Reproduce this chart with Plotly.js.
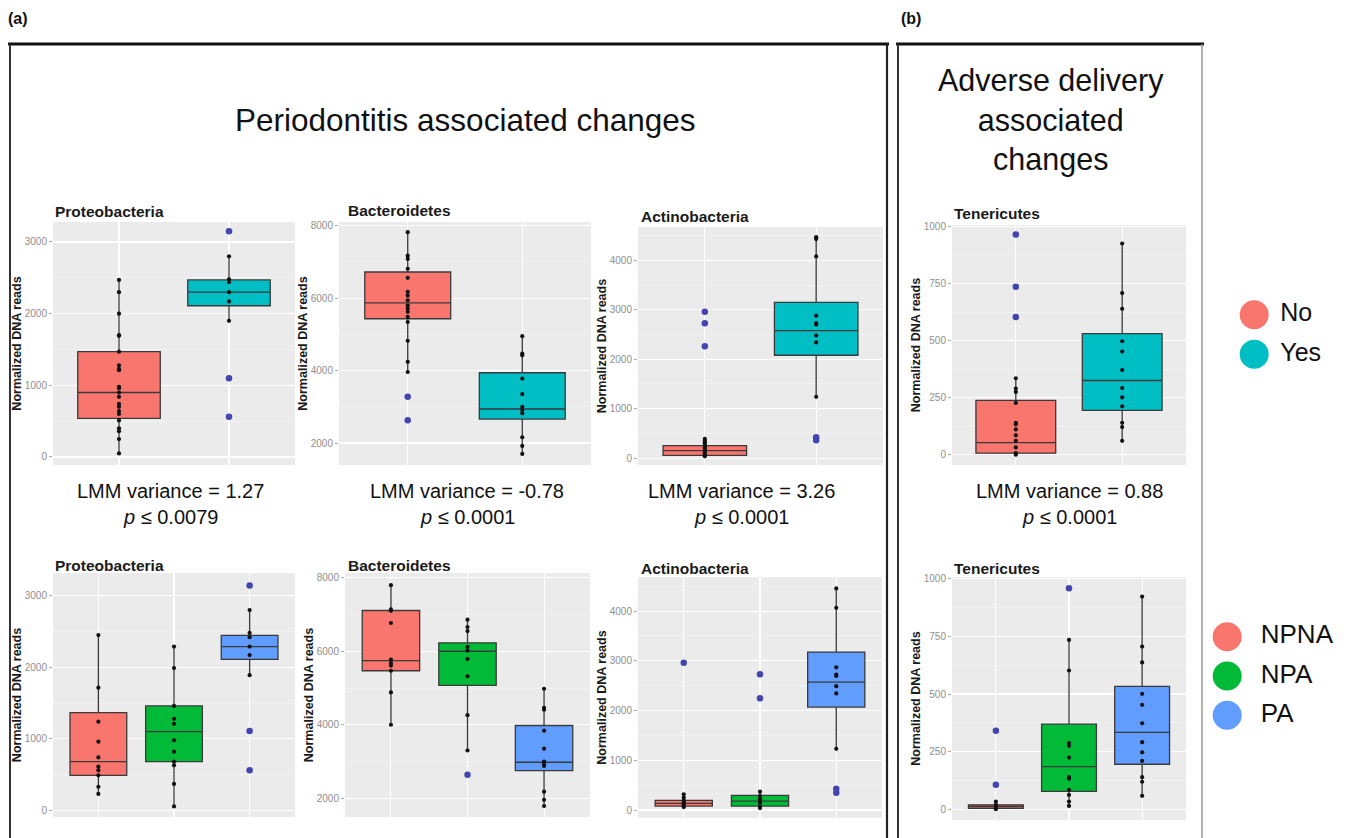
<!DOCTYPE html>
<html><head><meta charset="utf-8">
<script src="https://cdn.plot.ly/plotly-3.0.1.min.js"></script>
<style>html,body{margin:0;padding:0;background:#fff;}#chart{width:1351px;height:838px;}</style>
</head><body><div id="chart"></div>
<script>
// ---------------- categories & labels ----------------
const groupsPerio = ['No', 'Yes'];
const groupsTri = ['NPNA', 'NPA', 'PA'];
const colorsPerio = ['#F8766D', '#00BFC4'];
const colorsTri = ['#F8766D', '#00BA38', '#619CFF'];
const phyla = ['Proteobacteria', 'Bacteroidetes', 'Actinobacteria', 'Tenericutes'];
const lmmVariance = ['1.27', '-0.78', '3.26', '0.88'];
const pValue = ['0.0079', '0.0001', '0.0001', '0.0001'];

// ---------------- Proteobacteria, periodontitis (No / Yes) ----------------
const proteoPerio_lower = [50, 1900];
const proteoPerio_q1 = [540, 2110];
const proteoPerio_median = [900, 2300];
const proteoPerio_q3 = [1470, 2470];
const proteoPerio_upper = [2470, 2800];
const proteoPerio_No = [2470, 2300, 2000, 1700, 1690, 1470, 1280, 1230, 1210, 980, 960, 900, 840, 740, 700, 640, 600, 510, 400, 360, 250, 50];
const proteoPerio_Yes = [2800, 2480, 2440, 2300, 2170, 1900];
const proteoPerio_NoOut = [];
const proteoPerio_YesOut = [3150, 1100, 560];

// ---------------- Bacteroidetes, periodontitis ----------------
const bactPerio_lower = [3960, 1700];
const bactPerio_q1 = [5430, 2660];
const bactPerio_median = [5870, 2940];
const bactPerio_q3 = [6720, 3940];
const bactPerio_upper = [7820, 4950];
const bactPerio_No = [7820, 7170, 7080, 6810, 6560, 6170, 6070, 5940, 5800, 5710, 5620, 5480, 5340, 4820, 4240, 3960];
const bactPerio_Yes = [4950, 4470, 4420, 3780, 3350, 3000, 2910, 2820, 2160, 1920, 1700];
const bactPerio_NoOut = [3280, 2630];
const bactPerio_YesOut = [];

// ---------------- Actinobacteria, periodontitis ----------------
const actinoPerio_lower = [35, 1240];
const actinoPerio_q1 = [55, 2080];
const actinoPerio_median = [150, 2580];
const actinoPerio_q3 = [250, 3150];
const actinoPerio_upper = [390, 4470];
const actinoPerio_No = [390, 350, 320, 290, 250, 220, 190, 150, 120, 90, 55, 35];
const actinoPerio_Yes = [4470, 4430, 4080, 2880, 2730, 2700, 2480, 2340, 1240];
const actinoPerio_NoOut = [2960, 2730, 2260];
const actinoPerio_YesOut = [420, 360];

// ---------------- Tenericutes, adverse delivery ----------------
const teneAdverse_lower = [0, 61];
const teneAdverse_q1 = [7, 194];
const teneAdverse_median = [53, 325];
const teneAdverse_q3 = [238, 530];
const teneAdverse_upper = [335, 925];
const teneAdverse_No = [335, 290, 275, 227, 140, 133, 111, 85, 61, 32, 7, 0];
const teneAdverse_Yes = [925, 708, 639, 497, 452, 371, 292, 251, 212, 140, 121, 61];
const teneAdverse_NoOut = [964, 736, 603];
const teneAdverse_YesOut = [];

// ---------------- Proteobacteria, NPNA / NPA / PA ----------------
const proteoTri_lower = [230, 55, 1890];
const proteoTri_q1 = [490, 680, 2110];
const proteoTri_median = [680, 1100, 2290];
const proteoTri_q3 = [1365, 1460, 2445];
const proteoTri_upper = [2450, 2290, 2800];
const proteoTri_NPNA = [2450, 1715, 1240, 960, 740, 610, 560, 490, 330, 230];
const proteoTri_NPA = [2290, 1990, 1460, 1280, 1210, 980, 820, 680, 630, 370, 55];
const proteoTri_PA = [2800, 2480, 2420, 2290, 2170, 1890];
const proteoTri_NPNAOut = [];
const proteoTri_NPAOut = [];
const proteoTri_PAOut = [3145, 1110, 560];

// ---------------- Bacteroidetes, NPNA / NPA / PA ----------------
const bactTri_lower = [4000, 3300, 1790];
const bactTri_q1 = [5470, 5070, 2750];
const bactTri_median = [5745, 6000, 2980];
const bactTri_q3 = [7110, 6230, 3980];
const bactTri_upper = [7800, 6860, 4980];
const bactTri_NPNA = [7800, 7140, 7100, 6770, 5770, 5680, 5610, 5470, 4880, 4000];
const bactTri_NPA = [6860, 6660, 6550, 6120, 6020, 5790, 5320, 4260, 3300];
const bactTri_PA = [4980, 4460, 4410, 3840, 3350, 3000, 2940, 2880, 2180, 1960, 1790];
const bactTri_NPNAOut = [];
const bactTri_NPAOut = [2640];
const bactTri_PAOut = [];

// ---------------- Actinobacteria, NPNA / NPA / PA ----------------
const actinoTri_lower = [60, 40, 1230];
const actinoTri_q1 = [80, 80, 2070];
const actinoTri_median = [135, 180, 2570];
const actinoTri_q3 = [195, 295, 3175];
const actinoTri_upper = [315, 370, 4455];
const actinoTri_NPNA = [315, 250, 195, 150, 115, 80, 60];
const actinoTri_NPA = [370, 280, 215, 150, 80, 40];
const actinoTri_PA = [4455, 4065, 2870, 2725, 2695, 2490, 2345, 1230];
const actinoTri_NPNAOut = [2960];
const actinoTri_NPAOut = [2730, 2245];
const actinoTri_PAOut = [430, 350];

// ---------------- Tenericutes, NPNA / NPA / PA ----------------
const teneTri_lower = [0, 14, 58];
const teneTri_q1 = [4, 77, 195];
const teneTri_median = [12, 185, 333];
const teneTri_q3 = [19, 369, 533];
const teneTri_upper = [33, 735, 923];
const teneTri_NPNA = [33, 19, 12, 4, 0];
const teneTri_NPA = [735, 602, 287, 275, 224, 139, 132, 84, 62, 33, 14];
const teneTri_PA = [923, 706, 637, 501, 453, 373, 291, 247, 210, 139, 119, 58];
const teneTri_NPNAOut = [340, 106];
const teneTri_NPAOut = [959];
const teneTri_PAOut = [];

// ---------------- build ----------------
const W = 1351, H = 838;
const fx = p => p / W;
const fy = p => 1 - p / H;
const FONT = 'Liberation Sans, Arial, Helvetica, sans-serif';

const panels = [
  {title: phyla[0], groups: groupsPerio, colors: colorsPerio, lower: proteoPerio_lower, q1: proteoPerio_q1, median: proteoPerio_median, q3: proteoPerio_q3, upper: proteoPerio_upper,
   pts: [proteoPerio_No, proteoPerio_Yes], out: [proteoPerio_NoOut, proteoPerio_YesOut], dom: [53, 222, 295, 465], yr: [-112, 3279], dtick: 1000, tt: [53, 212]},
  {title: phyla[1], groups: groupsPerio, colors: colorsPerio, lower: bactPerio_lower, q1: bactPerio_q1, median: bactPerio_median, q3: bactPerio_q3, upper: bactPerio_upper,
   pts: [bactPerio_No, bactPerio_Yes], out: [bactPerio_NoOut, bactPerio_YesOut], dom: [339, 222, 591, 465], yr: [1394, 8100], dtick: 2000, tt: [346, 211]},
  {title: phyla[2], groups: groupsPerio, colors: colorsPerio, lower: actinoPerio_lower, q1: actinoPerio_q1, median: actinoPerio_median, q3: actinoPerio_q3, upper: actinoPerio_upper,
   pts: [actinoPerio_No, actinoPerio_Yes], out: [actinoPerio_NoOut, actinoPerio_YesOut], dom: [638, 227, 883, 465], yr: [-140, 4675], dtick: 1000, tt: [639, 216]},
  {title: phyla[3], groups: groupsPerio, colors: colorsPerio, lower: teneAdverse_lower, q1: teneAdverse_q1, median: teneAdverse_median, q3: teneAdverse_q3, upper: teneAdverse_upper,
   pts: [teneAdverse_No, teneAdverse_Yes], out: [teneAdverse_NoOut, teneAdverse_YesOut], dom: [952, 225, 1186, 465], yr: [-45, 1006], dtick: 250, tt: [952, 213]},
  {title: phyla[0], groups: groupsTri, colors: colorsTri, lower: proteoTri_lower, q1: proteoTri_q1, median: proteoTri_median, q3: proteoTri_q3, upper: proteoTri_upper,
   pts: [proteoTri_NPNA, proteoTri_NPA, proteoTri_PA], out: [proteoTri_NPNAOut, proteoTri_NPAOut, proteoTri_PAOut], dom: [53, 573, 295, 817], yr: [-93, 3318], dtick: 1000, tt: [53, 565]},
  {title: phyla[1], groups: groupsTri, colors: colorsTri, lower: bactTri_lower, q1: bactTri_q1, median: bactTri_median, q3: bactTri_q3, upper: bactTri_upper,
   pts: [bactTri_NPNA, bactTri_NPA, bactTri_PA], out: [bactTri_NPNAOut, bactTri_NPAOut, bactTri_PAOut], dom: [345, 573, 590, 817], yr: [1490, 8130], dtick: 2000, tt: [346, 565]},
  {title: phyla[2], groups: groupsTri, colors: colorsTri, lower: actinoTri_lower, q1: actinoTri_q1, median: actinoTri_median, q3: actinoTri_q3, upper: actinoTri_upper,
   pts: [actinoTri_NPNA, actinoTri_NPA, actinoTri_PA], out: [actinoTri_NPNAOut, actinoTri_NPAOut, actinoTri_PAOut], dom: [638, 577, 882, 818], yr: [-160, 4685], dtick: 1000, tt: [639, 568]},
  {title: phyla[3], groups: groupsTri, colors: colorsTri, lower: teneTri_lower, q1: teneTri_q1, median: teneTri_median, q3: teneTri_q3, upper: teneTri_upper,
   pts: [teneTri_NPNA, teneTri_NPA, teneTri_PA], out: [teneTri_NPNAOut, teneTri_NPAOut, teneTri_PAOut], dom: [952, 577, 1186, 820], yr: [-47, 1008], dtick: 250, tt: [952, 568]}
];

const traces = [];
const layout = {
  width: W, height: H, margin: {l: 0, r: 0, t: 0, b: 0},
  paper_bgcolor: '#ffffff', plot_bgcolor: 'rgba(0,0,0,0)',
  showlegend: false, font: {family: FONT, color: '#111'},
  shapes: [], annotations: []
};

panels.forEach((p, k) => {
  const n = k + 1;
  const sx = n === 1 ? '' : String(n);
  const xa = 'x' + sx, ya = 'y' + sx;
  const [x0, y0, x1, y1] = p.dom;
  const ng = p.groups.length;
  layout['xaxis' + sx] = {
    domain: [fx(x0), fx(x1)], anchor: ya, range: [0.4, ng + 0.6],
    tickvals: p.groups.map((g, i) => i + 1), ticktext: p.groups, showticklabels: false, ticks: '',
    showgrid: true, gridcolor: '#ffffff', gridwidth: 1.1, zeroline: false, showline: false, fixedrange: true
  };
  layout['yaxis' + sx] = {
    domain: [fy(y1), fy(y0)], anchor: xa, range: p.yr, tick0: 0, dtick: p.dtick,
    ticks: 'outside', ticklen: 3, tickwidth: 1, tickcolor: '#a8a8a8',
    tickfont: {size: 10, color: '#8e8e8e', family: FONT},
    showgrid: true, gridcolor: '#ffffff', gridwidth: 1.1,
    minor: {dtick: p.dtick / 2, showgrid: true, gridcolor: '#F6F6F6', gridwidth: 0.6},
    zeroline: false, showline: false, fixedrange: true,
    title: {text: 'Normalized DNA reads', font: {size: 12.5, color: '#1a1a1a', family: FONT, weight: 'bold'}, standoff: 0}
  };
  layout.shapes.push({type: 'rect', xref: xa + ' domain', yref: ya + ' domain', x0: 0, x1: 1, y0: 0, y1: 1,
    fillcolor: '#EBEBEB', line: {width: 0}, layer: 'below'});
  p.groups.forEach((g, i) => {
    traces.push({type: 'box', name: g, xaxis: xa, yaxis: ya, x: [i + 1],
      q1: [p.q1[i]], median: [p.median[i]], q3: [p.q3[i]], lowerfence: [p.lower[i]], upperfence: [p.upper[i]],
      width: 0.75, whiskerwidth: 0, boxpoints: false, fillcolor: p.colors[i],
      line: {color: '#3a3a3a', width: 1.3}, hoverinfo: 'skip'});
  });
  p.groups.forEach((g, i) => {
    if (p.out[i].length) {
      traces.push({type: 'scatter', mode: 'markers', xaxis: xa, yaxis: ya, x: p.out[i].map(() => i + 1), y: p.out[i],
        marker: {color: '#4444b0', size: 6.5}, hoverinfo: 'skip'});
    }
    traces.push({type: 'scatter', mode: 'markers', xaxis: xa, yaxis: ya, x: p.pts[i].map(() => i + 1), y: p.pts[i],
      marker: {color: '#111111', size: 4.2}, hoverinfo: 'skip'});
  });
  layout.annotations.push({xref: 'paper', yref: 'paper', x: fx(p.tt[0]), y: fy(p.tt[1]), xanchor: 'left', yanchor: 'middle',
    text: p.title, showarrow: false, font: {size: 15.5, family: FONT, color: '#1a1a1a', weight: 'bold'}});
});

// ---------------- legends (drawn as markers on hidden axes) ----------------
const legends = [
  {groups: groupsPerio, colors: colorsPerio, dom: [1230, 295, 1351, 374], mx: 0.2, fs: 25, pad: '\u00a0'},
  {groups: groupsTri, colors: colorsTri, dom: [1200, 617, 1351, 735], mx: 0.18, fs: 26, pad: '\u00a0\u00a0'}
];
legends.forEach((L, k) => {
  const n = 9 + k;
  const xa = 'x' + n, ya = 'y' + n;
  const [x0, y0, x1, y1] = L.dom;
  const ng = L.groups.length;
  layout['xaxis' + n] = {domain: [fx(x0), fx(x1)], anchor: ya, range: [0, 1], visible: false, fixedrange: true};
  layout['yaxis' + n] = {domain: [fy(y1), fy(y0)], anchor: xa, range: [-0.5, ng - 0.5], visible: false, fixedrange: true};
  traces.push({type: 'scatter', mode: 'markers+text', xaxis: xa, yaxis: ya,
    x: L.groups.map(() => L.mx), y: L.groups.map((g, i) => ng - 1 - i),
    text: L.groups.map(g => L.pad + g), textposition: 'middle right',
    textfont: {size: L.fs, family: FONT, color: '#111'},
    marker: {color: L.colors, size: 29}, hoverinfo: 'skip', cliponaxis: false});
});

// ---------------- texts ----------------
const ann = (x, y, text, size, extra) => layout.annotations.push(Object.assign({
  xref: 'paper', yref: 'paper', x: fx(x), y: fy(y), text: text, showarrow: false,
  xanchor: 'center', yanchor: 'middle', font: {size: size, family: FONT, color: '#111'}}, extra || {}));

ann(18, 19, '(a)', 16, {font: {size: 16, family: FONT, color: '#111', weight: 'bold'}});
ann(911, 19, '(b)', 16, {font: {size: 16, family: FONT, color: '#111', weight: 'bold'}});
ann(465, 120, 'Periodontitis associated changes', 31.5);
ann(1051, 120, 'Adverse delivery<br>associated<br>changes', 30.5);

const lmmX = [170, 467, 742, 1069];
lmmX.forEach((x, i) => {
  ann(x, 491, 'LMM variance = ' + lmmVariance[i], 20);
  ann(x, 517, '<i>p</i> \u2264 ' + pValue[i], 20);
});

// ---------------- panel frames ----------------
const line = (x0, y0, x1, y1, w, c) => layout.shapes.push({type: 'line', xref: 'paper', yref: 'paper',
  x0: fx(x0), y0: fy(y0), x1: fx(x1), y1: fy(y1), line: {color: c, width: w}});
line(8, 44, 889, 44, 3, '#111');
line(10, 44, 10, 838, 2, '#333');
line(887, 44, 887, 838, 2.2, '#222');
line(896, 44, 1204, 44, 3, '#111');
line(898, 44, 898, 838, 2, '#333');
line(1202, 44, 1202, 838, 1.5, '#9a9a9a');

Plotly.newPlot('chart', traces, layout, {staticPlot: true, displayModeBar: false});
</script>
</body></html>
